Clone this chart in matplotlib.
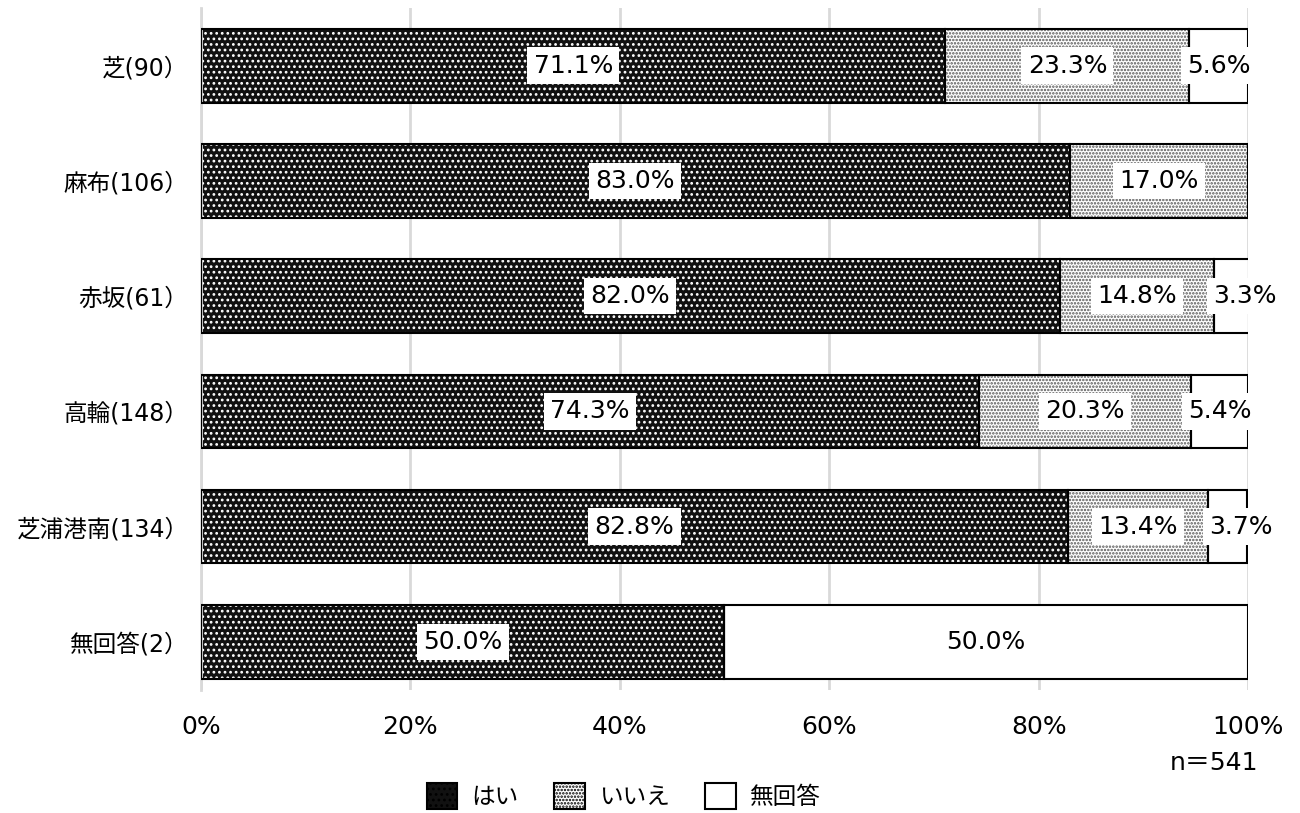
import matplotlib.pyplot as plt
import matplotlib.patches as mpatches
import numpy as np

plt.rcParams['font.family'] = ['DejaVu Sans', 'Noto Sans CJK JP']
plt.rcParams['hatch.linewidth'] = 1.2

# データ
areas = ['芝(90）', '麻布(106）', '赤坂(61）', '高輪(148）', '芝浦港南(134）', '無回答(2）']
yes = [71.1, 83.0, 82.0, 74.3, 82.8, 50.0]
no = [23.3, 17.0, 14.8, 20.3, 13.4, 0.0]
na = [5.6, 0.0, 3.3, 5.4, 3.7, 50.0]
series_names = ['はい', 'いいえ', '無回答']
n_total = 541

# 模様の設定 (面色, ハッチ色, ハッチ)
styles = [
    ('#111111', '#ffffff', '...'),
    ('#ffffff', '#555555', '.....'),
    ('#ffffff', '#ffffff', ''),
]

fig = plt.figure(figsize=(13, 8.13), dpi=100)
ax = fig.add_axes([0.1546, 0.151, 0.8054, 0.839])

y = np.arange(len(areas))
h = 0.64
left = np.zeros(len(areas))
for vals, (fc, hc, hatch) in zip([yes, no, na], styles):
    vals = np.array(vals)
    # 模様 → 黒枠 の順で二重に描く
    ax.barh(y, vals, h, left=left, facecolor=fc, edgecolor=hc, hatch=hatch,
            linewidth=0, zorder=2)
    ax.barh(y, vals, h, left=left, facecolor='none', edgecolor='black',
            linewidth=1.5, zorder=3)
    for yi, l, v in zip(y, left, vals):
        if v <= 0:
            continue
        cx = l + v / 2
        if v < 4:
            cx = min(l + v / 2 + 1.3, 99.7)
        ax.text(cx, yi, f'{v:.1f}%', ha='center', va='center', fontsize=18,
                zorder=4, bbox=dict(facecolor='white', edgecolor='none', pad=4.5))
    left = left + vals

ax.set_xlim(0, 100)
ax.set_ylim(len(areas) - 0.58, -0.5)
ax.set_yticks(y)
ax.set_yticklabels(areas, fontsize=17)
ax.set_xticks(np.arange(0, 101, 20))
ax.set_xticklabels([f'{t}%' for t in range(0, 101, 20)], fontsize=18)
ax.tick_params(axis='x', length=0, pad=18)
ax.tick_params(axis='y', length=0, pad=9)
ax.grid(axis='x', color='#d9d9d9', linewidth=2, zorder=0)
ax.set_axisbelow(True)
for s in ['top', 'right', 'bottom']:
    ax.spines[s].set_visible(False)
ax.spines['left'].set_color('#d9d9d9')
ax.spines['left'].set_linewidth(2)

fig.text(0.968, 0.062, f'n＝{n_total}', ha='right', va='center', fontsize=18)

handles = []
for name, (fc, hc, hatch) in zip(series_names, styles):
    handles.append(mpatches.Patch(facecolor=fc, edgecolor='black', hatch=hatch,
                                  linewidth=1.5, label=name))
fig.legend(handles=handles, loc='center', bbox_to_anchor=(0.48, 0.021), ncol=3,
           frameon=False, fontsize=17, handlelength=1.3, handleheight=1.3,
           columnspacing=1.5, handletextpad=0.6)

fig.savefig('out.png', dpi=100)
